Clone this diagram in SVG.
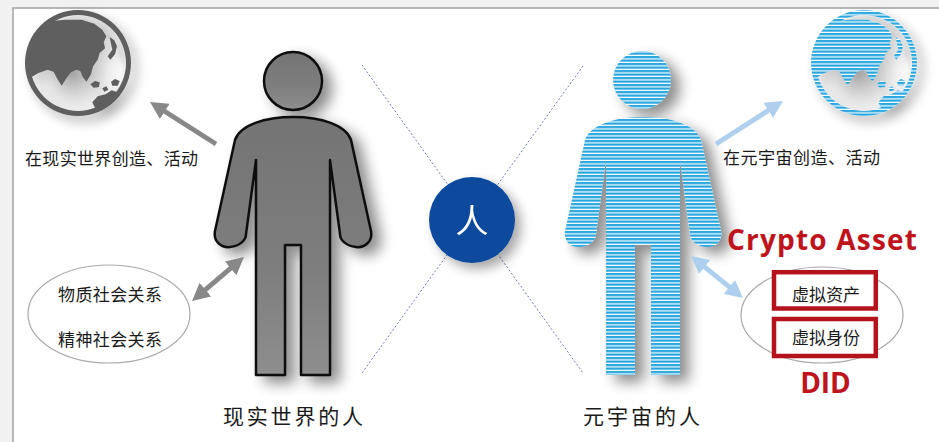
<svg xmlns="http://www.w3.org/2000/svg" xmlns:xlink="http://www.w3.org/1999/xlink" width="939" height="442" viewBox="0 0 939 442">
  <style>
    .cn { font-family: "Noto Sans CJK SC", "Noto Sans", sans-serif; fill: #1a1a1a; }
    .lbl { font-size: 17px; }
    .big { font-size: 21px; }
    .red { font-family: "Open Sans", "Liberation Sans", sans-serif; font-weight: 700; fill: #c0141c; font-size: 28px; }
    .guide { stroke: #6f7daa; stroke-width: 1; stroke-dasharray: 2 2; fill: none; }
    .oval { fill: none; stroke: #a9a9a9; stroke-width: 1.2; }
    .redbox { fill: #ffffff; stroke: #b5121b; stroke-width: 4.5; }
    .arrGray { stroke: #888888; stroke-width: 5; fill: none; }
    .arrBlue { stroke: #aed0ee; stroke-width: 5; fill: none; }
    .outline { stroke: #111111; stroke-width: 2.5; stroke-linejoin: round; }
  </style>
  <defs>
    <!-- horizontal cyan stripes used for the virtual figure -->
    <pattern id="stripes" patternUnits="userSpaceOnUse" width="20" height="3.5">
      <rect width="20" height="3.5" fill="#ffffff"/>
      <rect width="20" height="2.3" fill="#2aa7df"/>
    </pattern>
    <!-- same stripes at 3x, for the globe drawn in a 1/3-scaled space -->
    <pattern id="stripesG" patternUnits="userSpaceOnUse" width="60" height="10.5">
      <rect width="60" height="10.5" fill="#ffffff"/>
      <rect width="60" height="6.9" fill="#2aa7df"/>
    </pattern>
    <linearGradient id="bodyGray" x1="0" y1="0" x2="0" y2="1">
      <stop offset="0" stop-color="#747474"/>
      <stop offset="0.6" stop-color="#7e7e7e"/>
      <stop offset="1" stop-color="#8e8e8e"/>
    </linearGradient>
    <radialGradient id="globeShade" cx="0.45" cy="0.6" r="0.5">
      <stop offset="0" stop-color="#9a9a9a" stop-opacity="0.75"/>
      <stop offset="1" stop-color="#ffffff" stop-opacity="0"/>
    </radialGradient>
    <filter id="shadow" x="-40%" y="-30%" width="190%" height="170%">
      <feGaussianBlur in="SourceAlpha" stdDeviation="7"/>
      <feOffset dx="9" dy="7" result="b"/>
      <feComponentTransfer><feFuncA type="linear" slope="0.45"/></feComponentTransfer>
      <feMerge><feMergeNode/><feMergeNode in="SourceGraphic"/></feMerge>
    </filter>
    <filter id="shadowSoft" x="-40%" y="-40%" width="190%" height="190%">
      <feGaussianBlur in="SourceAlpha" stdDeviation="6"/>
      <feOffset dx="6" dy="6"/>
      <feComponentTransfer><feFuncA type="linear" slope="0.35"/></feComponentTransfer>
      <feMerge><feMergeNode/><feMergeNode in="SourceGraphic"/></feMerge>
    </filter>
    <marker id="headGray" viewBox="0 0 3.5 3.6" refX="2.2" refY="1.8" markerWidth="3.5" markerHeight="3.6" orient="auto-start-reverse" markerUnits="strokeWidth">
      <path d="M0,0 L3.5,1.8 L0,3.6 Z" fill="#888888"/>
    </marker>
    <marker id="headBlue" viewBox="0 0 3.5 3.6" refX="2.2" refY="1.8" markerWidth="3.5" markerHeight="3.6" orient="auto-start-reverse" markerUnits="strokeWidth">
      <path d="M0,0 L3.5,1.8 L0,3.6 Z" fill="#aed0ee"/>
    </marker>
    <!-- human silhouette, centred on x=293 -->
    <path id="body" d="M235,140 C240,125 265,117 293,117 C321,117 346,125 351,140 L371,231 C373,242 364,248 356,247 C346,246 340,240 340,234 L330,160 L330,375 L301,375 L301,245 L285,245 L285,375 L256,375 L256,160 L246,234 C246,240 240,246 230,247 C222,248 213,242 215,231 Z"/>
    <!-- globe: ring plus Asia / Australia land masses, drawn at 3x around (189,174) -->
    <clipPath id="globeClip"><circle cx="189" cy="174" r="146"/></clipPath>
    <g id="globe">
      <g transform="scale(0.33333) translate(-189,-174)">
        <circle cx="189" cy="174" r="150" fill="url(#globeShade)" stroke="none"/>
        <path fill-rule="evenodd" d="M30,174 a159,159 0 1,0 318,0 a159,159 0 1,0 -318,0 Z M45,174 a144,144 0 1,0 288,0 a144,144 0 1,0 -288,0 Z"/>
        <g clip-path="url(#globeClip)">
          <path d="M20,100 L60,60 L110,48 L150,44 L200,44 L238,56 L262,74 L274,94 L266,112 L270,130 L254,144 L248,164 L234,184 L228,208 L214,230 L202,214 L196,198 L184,194 L168,202 L154,220 L140,242 L126,220 L116,200 L98,194 L70,204 L40,222 L20,220 Z"/>
          <path d="M284,96 L298,106 L306,124 L300,148 L286,164 L278,154 L292,134 L288,116 Z"/>
          <path d="M226,238 L240,228 L254,232 L252,246 L236,248 Z"/>
          <path d="M288,230 L300,222 L314,228 L308,242 L292,242 Z"/>
          <path d="M262,250 L274,244 L280,254 L268,260 Z"/>
          <path d="M232,292 L248,274 L272,268 L290,256 L308,262 L326,278 L324,302 L298,316 L266,320 L240,308 Z"/>
        </g>
      </g>
    </g>
  </defs>

  <!-- page and frame -->
  <rect width="939" height="442" fill="#f1f1f1"/>
  <rect x="13" y="8" width="940" height="450" fill="#ffffff" stroke="#a3a3a3" stroke-width="1.5"/>

  <!-- dotted guide cross behind the centre badge -->
  <g id="guides">
    <line class="guide" x1="362" y1="65" x2="583" y2="373"/>
    <line class="guide" x1="583" y1="66" x2="362" y2="373"/>
  </g>

  <!-- globes -->
  <g id="globe-real" filter="url(#shadowSoft)">
    <use xlink:href="#globe" transform="translate(78,63)" fill="#5e5e5e"/>
  </g>
  <g id="globe-meta" filter="url(#shadowSoft)">
    <use xlink:href="#globe" transform="translate(864,63)" fill="url(#stripesG)"/>
  </g>

  <!-- real-world person -->
  <g id="person-real" filter="url(#shadow)">
    <circle class="outline" cx="293" cy="81" r="29" fill="url(#bodyGray)"/>
    <use class="outline" xlink:href="#body" fill="url(#bodyGray)"/>
  </g>

  <!-- metaverse person -->
  <g id="person-meta" filter="url(#shadow)">
    <circle cx="642" cy="80" r="29" fill="url(#stripes)"/>
    <use xlink:href="#body" transform="translate(350,0)" fill="url(#stripes)"/>
  </g>

  <!-- centre badge -->
  <g id="badge" filter="url(#shadowSoft)">
    <circle cx="472" cy="220" r="43" fill="#0c4a9c"/>
    <text x="472" y="233" text-anchor="middle" font-family="'Noto Sans CJK SC', sans-serif" font-size="33" fill="#ffffff">人</text>
  </g>

  <!-- relation ovals -->
  <g id="relations-real">
    <ellipse class="oval" cx="109" cy="314" rx="81" ry="49"/>
    <text class="cn lbl" x="58" y="301" textLength="104" lengthAdjust="spacing">物质社会关系</text>
    <text class="cn lbl" x="58" y="346" textLength="104" lengthAdjust="spacing">精神社会关系</text>
  </g>
  <g id="relations-meta">
    <ellipse class="oval" cx="822" cy="315" rx="81" ry="48"/>
    <rect class="redbox" x="774" y="272.2" width="101.8" height="36.3"/>
    <rect class="redbox" x="774" y="319" width="101.8" height="37"/>
    <text class="cn lbl" x="792" y="301" textLength="68" lengthAdjust="spacing">虚拟资产</text>
    <text class="cn lbl" x="792" y="344" textLength="68" lengthAdjust="spacing">虚拟身份</text>
    <text class="red" x="727" y="250" textLength="190" lengthAdjust="spacing">Crypto Asset</text>
    <text class="red" x="825.5" y="393" text-anchor="middle">DID</text>
  </g>

  <!-- activity captions -->
  <g id="caption-real">
    <text class="cn lbl" x="25" y="165" textLength="173" lengthAdjust="spacing">在现实世界创造、活动</text>
  </g>
  <g id="caption-meta">
    <text class="cn lbl" x="723" y="164" textLength="157" lengthAdjust="spacing">在元宇宙创造、活动</text>
  </g>

  <!-- figure titles -->
  <g id="title-real">
    <text class="cn big" x="223" y="424" textLength="140" lengthAdjust="spacing">现实世界的人</text>
  </g>
  <g id="title-meta">
    <text class="cn big" x="583" y="424" textLength="117" lengthAdjust="spacing">元宇宙的人</text>
  </g>

  <!-- connectors -->
  <g id="connectors">
    <line class="arrGray" x1="216" y1="144" x2="155.5" y2="105.5" marker-end="url(#headGray)"/>
    <line class="arrGray" x1="197" y1="296.8" x2="239" y2="261.2" marker-start="url(#headGray)" marker-end="url(#headGray)"/>
    <line class="arrBlue" x1="716" y1="144" x2="777.5" y2="104.5" marker-end="url(#headBlue)"/>
    <line class="arrBlue" x1="696.1" y1="260.1" x2="737.9" y2="293.9" marker-start="url(#headBlue)" marker-end="url(#headBlue)"/>
  </g>
</svg>
